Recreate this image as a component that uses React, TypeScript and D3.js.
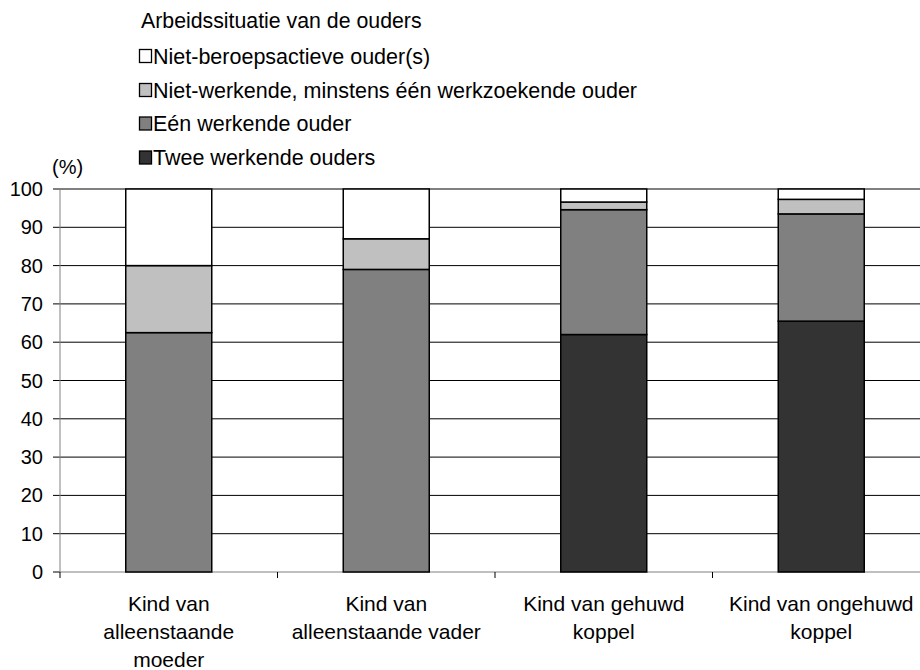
import React from "react";
import * as d3 from "d3";

const categories = [
  ["Kind van", "alleenstaande", "moeder"],
  ["Kind van", "alleenstaande vader"],
  ["Kind van gehuwd", "koppel"],
  ["Kind van ongehuwd", "koppel"],
];
const tweeWerkende = [0, 0, 62, 65.5];
const eenWerkende = [62.5, 79, 32.6, 28];
const werkzoekende = [17.5, 8, 2, 3.8];
const nietBeroepsactief = [20, 13, 3.4, 2.7];
const seriesNames = [
  "Twee werkende ouders",
  "Eén werkende ouder",
  "Niet-werkende, minstens één werkzoekende ouder",
  "Niet-beroepsactieve ouder(s)",
];
const seriesColors = ["#333333", "#808080", "#c0c0c0", "#ffffff"];
const yTicks = [0, 10, 20, 30, 40, 50, 60, 70, 80, 90, 100];

export default function App() {
  const W = 920, H = 670;
  const left = 60, top = 189, bottom = 572;
  const font = "'Liberation Sans', Arial, sans-serif";
  const bandX = d3.scaleBand<number>().domain([0, 1, 2, 3]).range([left, left + 4 * 217.5]);
  const y = d3.scaleLinear().domain([0, 100]).range([bottom, top]);
  const data = categories.map((_, i) => ({
    i,
    v0: tweeWerkende[i],
    v1: eenWerkende[i],
    v2: werkzoekende[i],
    v3: nietBeroepsactief[i],
  }));
  const stack = d3.stack<any>().keys(["v0", "v1", "v2", "v3"])(data);
  const bw = 86;
  const legendRows = [3, 2, 1, 0];
  const legendY = [63.5, 97.5, 131, 165];
  return (
    <svg width={W} height={H} style={{ position: "absolute", left: 0, top: 0 }} fontFamily={font}>
      <rect x={0} y={0} width={W} height={H} fill="#fff" />
      <text x={141} y={27.5} fontSize={21.3} fill="#000">Arbeidssituatie van de ouders</text>
      {legendRows.map((s, k) => (
        <g key={s}>
          <rect x={139.5} y={legendY[k] - 14} width={12} height={13} fill={seriesColors[s]} stroke="#000" strokeWidth={1.3} />
          <text x={153} y={legendY[k]} fontSize={21.5} fill="#000">{seriesNames[s]}</text>
        </g>
      ))}
      <text x={52} y={174} fontSize={20}>(%)</text>
      {yTicks.map((t) => (
        <g key={t}>
          {t > 0 && <line x1={left} x2={W} y1={y(t)} y2={y(t)} stroke="#000" strokeWidth={1} />}
          <line x1={53} x2={left} y1={y(t)} y2={y(t)} stroke="#000" />
          <text x={43} y={y(t) + 7} fontSize={20} textAnchor="end">{t}</text>
        </g>
      ))}
      <line x1={left} x2={left} y1={top} y2={bottom} stroke="#808080" strokeWidth={1} />
      <line x1={left} x2={W} y1={bottom} y2={bottom} stroke="#808080" strokeWidth={1} />
      {[0, 1, 2, 3].map((i) => (
        <line key={i} x1={bandX(i)!} x2={bandX(i)!} y1={bottom} y2={bottom + 6} stroke="#000" />
      ))}
      {stack.map((layer, s) => (
        <g key={s}>
          {layer.map((d, i) => {
            if (d[1] - d[0] <= 0) return null;
            const cx = bandX(i)! + bandX.bandwidth() / 2;
            return (
              <rect key={i} x={cx - bw / 2} y={y(d[1])} width={bw} height={y(d[0]) - y(d[1])}
                fill={seriesColors[s]} stroke="#000" strokeWidth={1.5} />
            );
          })}
        </g>
      ))}
      {categories.map((lines, i) => (
        <text key={i} x={bandX(i)! + bandX.bandwidth() / 2} fontSize={21} textAnchor="middle">
          {lines.map((l, k) => (
            <tspan key={k} x={bandX(i)! + bandX.bandwidth() / 2} y={611 + k * 28}>{l}</tspan>
          ))}
        </text>
      ))}
    </svg>
  );
}
